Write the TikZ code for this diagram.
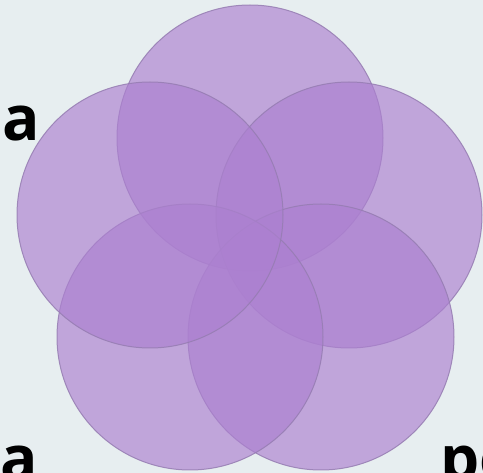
\documentclass[tikz,border=0pt]{standalone}
\usepackage{fontspec}
\newfontfamily\labfont{Open Sans}
\definecolor{bgc}{RGB}{231,238,240}
\definecolor{discfill}{RGB}{172,128,208}
\definecolor{discrim}{RGB}{150,125,178}
\begin{document}
\begin{tikzpicture}[x=1pt,y=-1pt,
  disc/.style={fill=discfill, fill opacity=0.66, draw=discrim, draw opacity=0.85, line width=1pt},
  lab/.style={font=\labfont\bfseries\fontsize{62}{62}\selectfont, inner sep=0pt, anchor=base west}]
\useasboundingbox (0,0) rectangle (483,473);
\clip (0,0) rectangle (483,473);
\fill[bgc] (0,0) rectangle (483,473);
\coordinate (ct) at (250,138);
\coordinate (cur) at (349,215);
\coordinate (cbr) at (321,337);
\coordinate (cbl) at (190,337);
\coordinate (cul) at (150,215);
\foreach \c in {ct,cur,cbr,cbl,cul}{
  \draw[disc] (\c) circle[radius=133pt];
}
\node[lab] (t1) at (2,141) {a};
\node[lab] (t2) at (0,481) {a};
\node[lab] (t3) at (440,481) {pe};
\end{tikzpicture}
\end{document}
